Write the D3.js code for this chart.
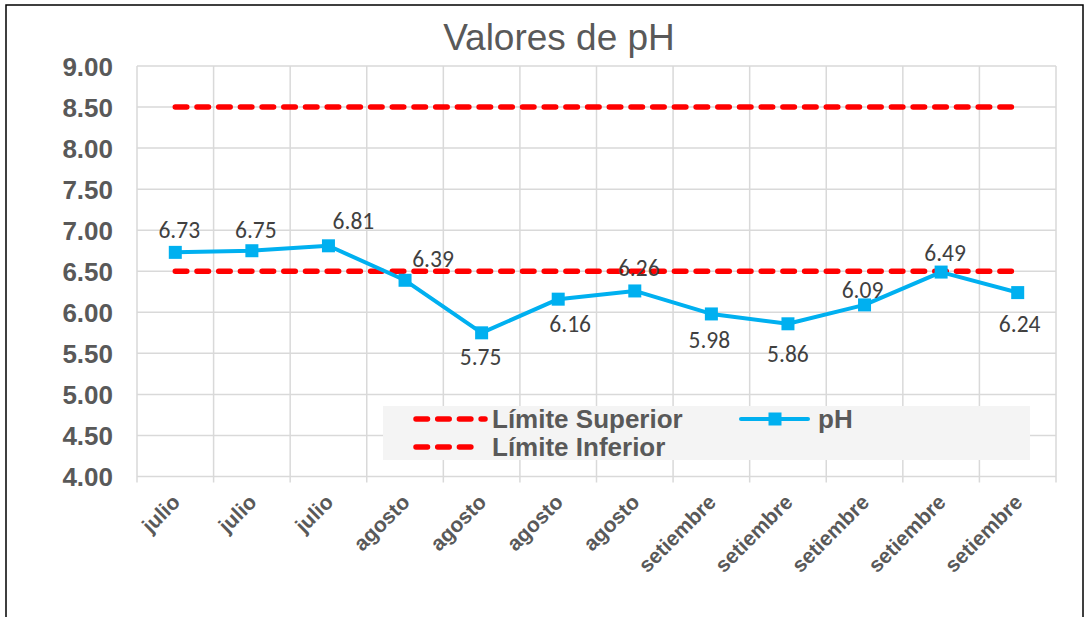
<!DOCTYPE html>
<html>
<head>
<meta charset="utf-8">
<script src="https://cdn.jsdelivr.net/npm/d3@7"></script>
<style>
  html, body { margin: 0; padding: 0; background: #fff; }
  svg { display: block; }
</style>
</head>
<body>
<svg id="chart" width="1085" height="617"></svg>
<script>
// ---- data ----
const categories = ["julio", "julio", "julio", "agosto", "agosto", "agosto", "agosto",
                    "setiembre", "setiembre", "setiembre", "setiembre", "setiembre"];
const phValues = [6.73, 6.75, 6.81, 6.39, 5.75, 6.16, 6.26, 5.98, 5.86, 6.09, 6.49, 6.24];
const limiteSuperior = [8.5, 8.5, 8.5, 8.5, 8.5, 8.5, 8.5, 8.5, 8.5, 8.5, 8.5, 8.5];
const limiteInferior = [6.5, 6.5, 6.5, 6.5, 6.5, 6.5, 6.5, 6.5, 6.5, 6.5, 6.5, 6.5];
const yTicks = [4.0, 4.5, 5.0, 5.5, 6.0, 6.5, 7.0, 7.5, 8.0, 8.5, 9.0];
const titleText = "Valores de pH";
const legendLabels = ["Límite Superior", "Límite Inferior", "pH"];

// label placement (layout config, px offsets from the point)
const labelDx = [4, 4, 25, 28, -1, 12, 4, -2, 0, -2, 4, 2];
const labelDy = [-23, -21, -25, -22, 24, 24, -23, 26, 30, -15, -20, 31];

// ---- layout ----
const svg = d3.select("#chart");
const plot = { left: 137, right: 1056, top: 66, bottom: 476.5 };
const grey = "#d9d9d9";
const textCol = "#595959";
const blue = "#00B0F0";
const red = "#FF0000";

const idx = categories.map((d, i) => i);
const x = d3.scaleBand().domain(idx).range([plot.left, plot.right]).padding(0);
const cx = i => x(i) + x.bandwidth() / 2;
const y = d3.scaleLinear().domain([4, 9]).range([plot.bottom, plot.top]);

// outer frame
svg.append("rect").attr("x", 6).attr("y", 5).attr("width", 1077).attr("height", 700)
  .attr("fill", "none").attr("stroke", "#000").attr("stroke-width", 1.5);

// title
svg.append("text").attr("x", 559).attr("y", 50).attr("text-anchor", "middle")
  .attr("font-family", "'Liberation Sans', Arial, sans-serif").attr("font-size", 37)
  .attr("fill", textCol).text(titleText);

// horizontal gridlines
svg.append("g").selectAll("line").data(yTicks).join("line")
  .attr("x1", plot.left).attr("x2", plot.right)
  .attr("y1", d => y(d)).attr("y2", d => y(d))
  .attr("stroke", grey).attr("stroke-width", 1.5);

// vertical gridlines at band edges (with tick marks below axis)
const edges = idx.map(i => x(i)).concat([plot.right]);
svg.append("g").selectAll("line").data(edges).join("line")
  .attr("x1", d => d).attr("x2", d => d)
  .attr("y1", plot.top).attr("y2", plot.bottom + 6)
  .attr("stroke", grey).attr("stroke-width", 1.5);

// y axis labels
const yAxis = d3.axisLeft(y).tickValues(yTicks).tickFormat(d3.format(".2f")).tickSize(0).tickPadding(0);
const gy = svg.append("g").attr("transform", `translate(${113},0)`).call(yAxis);
gy.select(".domain").remove();
gy.selectAll("text").attr("font-family", "'Liberation Sans', Arial, sans-serif")
  .attr("font-size", 26).attr("font-weight", "bold").attr("fill", textCol).attr("dy", "0.36em");

// x axis labels
const xAxis = d3.axisBottom(x).tickFormat(i => categories[i]).tickSize(0).tickPadding(0);
const gx = svg.append("g").attr("transform", `translate(0,${plot.bottom})`).call(xAxis);
gx.select(".domain").remove();
gx.selectAll("text")
  .attr("font-family", "'Liberation Sans', Arial, sans-serif")
  .attr("font-size", 21).attr("font-weight", "bold").attr("fill", textCol)
  .attr("text-anchor", "end").attr("y", 0).attr("dy", 0)
  .attr("transform", "translate(6,27) rotate(-45)");

// limit lines
const limLine = d3.line().x((d, i) => cx(i)).y(d => y(d));
[limiteSuperior, limiteInferior].forEach(arr => {
  svg.append("path").datum(arr).attr("d", limLine)
    .attr("fill", "none").attr("stroke", red).attr("stroke-width", 5.5)
    .attr("stroke-linecap", "round").attr("stroke-dasharray", "11.5 10.2");
});

// pH series
svg.append("path").datum(phValues).attr("d", limLine)
  .attr("fill", "none").attr("stroke", blue).attr("stroke-width", 4)
  .attr("stroke-linejoin", "round");
const ms = 13;
svg.append("g").selectAll("rect").data(phValues).join("rect")
  .attr("x", (d, i) => cx(i) - ms / 2).attr("y", d => y(d) - ms / 2)
  .attr("width", ms).attr("height", ms).attr("fill", blue);

// data labels
svg.append("g").selectAll("text").data(phValues).join("text")
  .attr("x", (d, i) => cx(i) + labelDx[i])
  .attr("y", (d, i) => y(d) + labelDy[i])
  .attr("dy", "0.36em").attr("text-anchor", "middle")
  .attr("font-family", "Carlito, Calibri, Lato, sans-serif").attr("font-size", 23.5)
  .attr("fill", "#404040").text(d => d3.format(".2f")(d));

// legend
const lg = svg.append("g");
lg.append("rect").attr("x", 383).attr("y", 406).attr("width", 647).attr("height", 54).attr("fill", "#f4f4f4");
const legendFont = sel => sel.attr("font-family", "'Liberation Sans', Arial, sans-serif")
  .attr("font-size", 26).attr("font-weight", "bold").attr("fill", textCol).attr("dy", "0.36em");
// Límite Superior
lg.append("line").attr("x1", 416).attr("x2", 485).attr("y1", 419).attr("y2", 419)
  .attr("stroke", red).attr("stroke-width", 5.5).attr("stroke-linecap", "round").attr("stroke-dasharray", "11.5 10.2");
lg.append("text").attr("x", 492).attr("y", 419).text(legendLabels[0]).call(legendFont);
// Límite Inferior
lg.append("line").attr("x1", 416).attr("x2", 478).attr("y1", 447).attr("y2", 447)
  .attr("stroke", red).attr("stroke-width", 5.5).attr("stroke-linecap", "round").attr("stroke-dasharray", "11.5 10.2");
lg.append("text").attr("x", 492).attr("y", 447).text(legendLabels[1]).call(legendFont);
// pH
lg.append("line").attr("x1", 741).attr("x2", 808).attr("y1", 419).attr("y2", 419)
  .attr("stroke", blue).attr("stroke-width", 4).attr("stroke-linecap", "round");
lg.append("rect").attr("x", 775 - ms / 2).attr("y", 419 - ms / 2).attr("width", ms).attr("height", ms).attr("fill", blue);
lg.append("text").attr("x", 818).attr("y", 419).text(legendLabels[2]).call(legendFont);
</script>
</body>
</html>
